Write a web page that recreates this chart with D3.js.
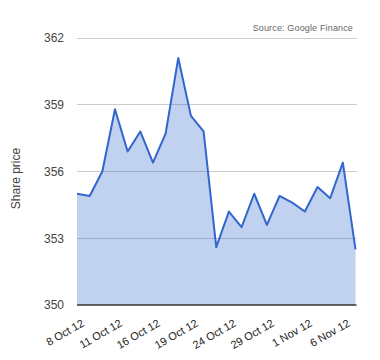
<!DOCTYPE html>
<html><head><meta charset="utf-8">
<script src="https://cdn.jsdelivr.net/npm/d3@7"></script>
<style>body{margin:0;background:#fff}svg{display:block}</style>
</head><body>
<svg id="c" width="380" height="360"></svg>
<script>
const dates = ["8 Oct 12","9 Oct 12","10 Oct 12","11 Oct 12","12 Oct 12","15 Oct 12","16 Oct 12","17 Oct 12","18 Oct 12","19 Oct 12","22 Oct 12","23 Oct 12","24 Oct 12","25 Oct 12","26 Oct 12","29 Oct 12","30 Oct 12","31 Oct 12","1 Nov 12","2 Nov 12","5 Nov 12","6 Nov 12","7 Nov 12"];
const prices = [355.0,354.9,356.0,358.8,356.9,357.8,356.4,357.7,361.1,358.5,357.8,352.6,354.2,353.5,355.0,353.6,354.9,354.6,354.2,355.3,354.8,356.4,352.5];
const yTicks = [350,353,356,359,362];
const shownLabels = ["8 Oct 12","11 Oct 12","16 Oct 12","19 Oct 12","24 Oct 12","29 Oct 12","1 Nov 12","6 Nov 12"];
const yTitle = "Share price";
const source = "Source: Google Finance";

const svg = d3.select("#c");
const L = 77, R = 355.5, T = 38, B = 305;
const x = d3.scalePoint().domain(dates).range([L, R]);
const y = d3.scaleLinear().domain([350, 362]).range([B, T]);
const font = "Arial, 'Liberation Sans', sans-serif";

// gridlines
svg.append("g").selectAll("line").data(yTicks.filter(d => d !== 350)).join("line")
  .attr("x1", L).attr("x2", R + 1).attr("y1", d => y(d)).attr("y2", d => y(d))
  .attr("stroke", "#cccccc").attr("stroke-width", 1).attr("shape-rendering", "crispEdges");

// area
const data = dates.map((d, i) => ({d, v: prices[i]}));
svg.append("path").datum(data)
  .attr("d", d3.area().x(p => x(p.d)).y0(y(350)).y1(p => y(p.v)))
  .attr("fill", "#3366cc").attr("fill-opacity", 0.3);
svg.append("path").datum(data)
  .attr("d", d3.line().x(p => x(p.d)).y(p => y(p.v)))
  .attr("fill", "none").attr("stroke", "#3366cc").attr("stroke-width", 2).attr("stroke-linejoin", "round");

// baseline
svg.append("line").attr("x1", L).attr("x2", R + 1).attr("y1", y(350)).attr("y2", y(350))
  .attr("stroke", "#333333").attr("stroke-width", 1.5);

// y labels
const yAxis = d3.axisLeft(y).tickValues(yTicks).tickSize(0).tickPadding(13);
const gy = svg.append("g").attr("transform", `translate(${L},0)`).call(yAxis);
gy.select(".domain").remove();
gy.selectAll("text").attr("font-family", font).attr("font-size", 12).attr("fill", "#444");

// x labels
svg.append("g").selectAll("text").data(shownLabels).join("text")
  .attr("transform", d => `translate(${x(d) + 6},${B + 17}) rotate(-30)`)
  .attr("text-anchor", "end").attr("dy", "0.35em")
  .attr("font-family", font).attr("font-size", 11).attr("fill", "#222")
  .text(d => d);

// y title
svg.append("text").attr("transform", `translate(20,178.5) rotate(-90)`)
  .attr("text-anchor", "middle").attr("font-family", font).attr("font-size", 12).attr("fill", "#444")
  .text(yTitle);

// source
svg.append("text").attr("x", 353).attr("y", 31).attr("text-anchor", "end")
  .attr("font-family", font).attr("font-size", 9).attr("letter-spacing", 0.15).attr("fill", "#666")
  .text(source);
</script>
</body></html>
